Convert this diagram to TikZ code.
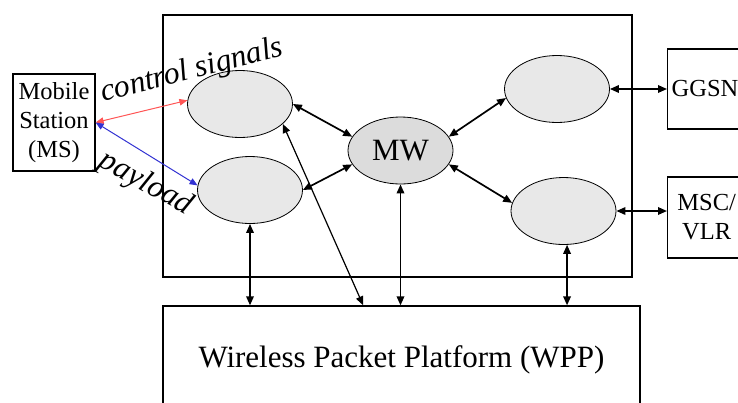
\documentclass[tikz,border=0pt]{standalone}
\usepackage{fontspec}
\setmainfont{Liberation Serif}
\usepackage{tikz}
\usetikzlibrary{
  positioning,
  arrows.meta,
  calc,
  shapes.geometric
}
\definecolor{fngray}{RGB}{232, 232, 232}
\definecolor{mwgray}{RGB}{220, 220, 220}
\definecolor{ctrlred}{RGB}{255, 85, 85}
\definecolor{loadblue}{RGB}{50, 50, 210}
\tikzset{
  netbox/.style={
    draw, line width=1.3pt,
    inner sep=0pt,
    align=center
  },
  fnnode/.style={
    ellipse, draw, line width=0.8pt, fill=fngray,
    inner sep=0pt,
    minimum width=105pt,
    minimum height=67pt
  },
  link/.style={{Triangle[length=9pt, width=7.5pt]}-{Triangle[length=9pt, width=7.5pt]}, line width=1.7pt, black},
  sigline/.style={{Triangle[length=8pt, width=6.5pt]}-{Triangle[length=8pt, width=6.5pt]}, line width=1pt}
}

\begin{document}
\begin{tikzpicture}[
  x=1pt, y=-1pt,
  bigfont/.style={font=\fontsize{31}{37}\selectfont},
  midfont/.style={font=\fontsize{24.5}{29}\selectfont},
  lbl/.style={font=\fontsize{31.5}{37}\selectfont\itshape},
]
\useasboundingbox (0,0) rectangle (738,402);

% boxes
\node[netbox, minimum width=469pt, minimum height=262pt] (core) at (397.5,146) {};
\node[netbox, bigfont, minimum width=477pt, minimum height=108pt] (wpp) at (401.5,360) {Wireless Packet Platform (WPP)};
\node[netbox, midfont, minimum width=82pt, minimum height=97pt] (ms) at (54,122.5) {Mobile\\Station\\(MS)};
\node[netbox, midfont, anchor=west, minimum height=80pt, inner xsep=4pt, text width=74pt, align=left] (ggsn) at (667,89) {GGSN};
\node[netbox, midfont, anchor=west, minimum height=81pt, inner xsep=9pt, text width=60pt, align=center] (msc) at (667,217.5) {MSC/\\VLR};

% functions inside the core
\node[fnnode] (ctrlfn) at (240,104) {};
\node[fnnode] (datafn) at (250,190) {};
\node[fnnode, fill=mwgray, bigfont] (mw) at (400.5,150.5) {MW};
\node[fnnode] (ggsnfn) at (557,89) {};
\node[fnnode] (mscfn) at (563.5,211) {};

% labels
\node[lbl, rotate=14.5] (ctrl) at (192,71) {control signals};
\node[lbl, rotate=-29] (load) at (146,184) {payload};

% MS links
\draw[sigline, ctrlred] (ms.east) -- (ctrlfn.176);
\draw[sigline, loadblue] (ms.east) -- (datafn.175);

% to MW
\draw[link] (ctrlfn.east) -- (mw.164);
\draw[link] (datafn.east) -- (mw.196);
\draw[link] (mw.16) -- (ggsnfn.190);
\draw[link] (mw.-16) -- (mscfn.171);

% to WPP
\draw[link, line width=1.2pt] (ctrlfn.-25) -- ($(wpp.north west)!0.42!(wpp.north east)$);
\draw[link] (datafn.south) -- (datafn.south |- wpp.north);
\draw[link] (mw.south) -- (mw.south |- wpp.north);
\draw[link] (mscfn.-84) -- (mscfn.-84 |- wpp.north);

% outside
\draw[link] (ggsnfn.east) -- (ggsn.west);
\draw[link] (mscfn.east) -- (mscfn.east -| msc.west);

\end{tikzpicture}
\end{document}
